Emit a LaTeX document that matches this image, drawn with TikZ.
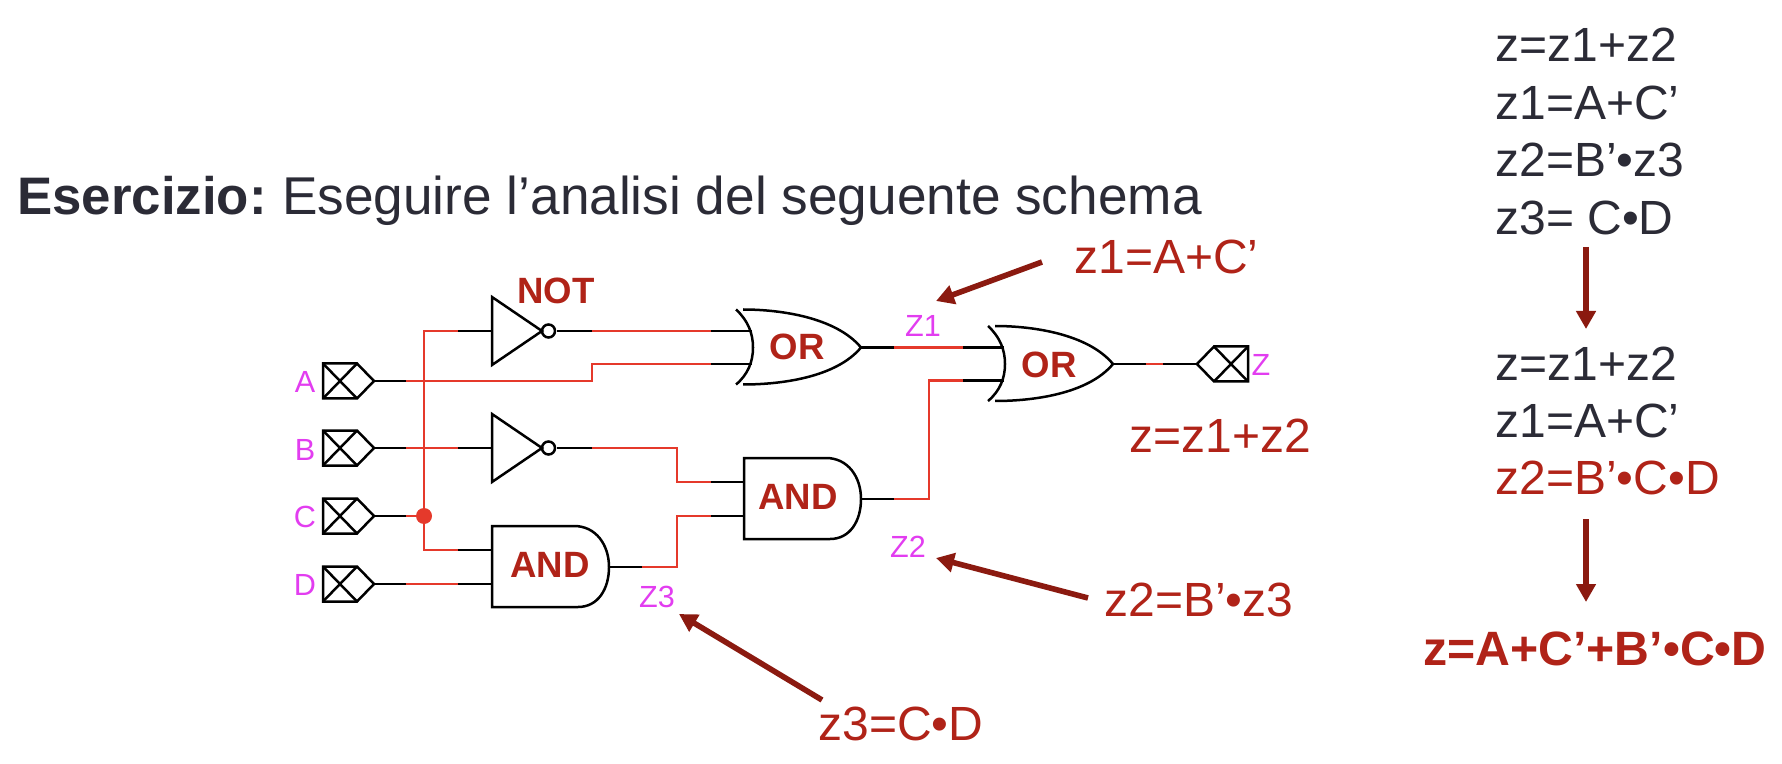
\documentclass[tikz,border=0pt]{standalone}
\usepackage{fontspec}
\setmainfont{Liberation Sans}
\usetikzlibrary{arrows.meta,positioning}

\definecolor{inkdark}{HTML}{2B2B36}
\definecolor{redtext}{HTML}{B02318}
\definecolor{redwire}{HTML}{E5392B}
\definecolor{redarrow}{HTML}{8B1A10}
\definecolor{sigpink}{HTML}{E23DF0}

\tikzset{
    gateline/.style={draw=black,line width=1.25pt},
    inport/.pic={
        \draw[gateline] (34,-17.5) -- (0,-17.5) -- (0,17.5) -- (34,17.5) -- (51,0) -- cycle;
        \draw[gateline] (0,-17.5) -- (34,17.5) (0,17.5) -- (34,-17.5);
        \coordinate (-out) at (51,0);
    },
    notgate/.pic={
        \draw[gateline] (0,-34) -- (50,0) -- (0,34) -- cycle;
        \draw[gateline] (56.5,0) circle (6.5);
        \coordinate (-in) at (0,0);
        \coordinate (-out) at (65,0);
    },
    andgate/.pic={
        \draw[gateline] (0,-41) -- (82,-41) .. controls (104,-41) and (117,-22) .. (117,0)
            .. controls (117,22) and (106,40) .. (86,40) -- (0,40) -- cycle;
        \coordinate (-in1) at (0,-17);
        \coordinate (-in2) at (0,17);
        \coordinate (-out) at (117,0);
    },
    orgate/.pic={
        \draw[gateline] (0,-38) .. controls (12,-27) and (17,-14) .. (17,0)
            .. controls (17,14) and (12,27) .. (0,37);
        \draw[gateline] (7,-38) .. controls (45,-38) and (100,-30) .. (125,0)
            .. controls (100,30) and (45,37) .. (7,37);
        \coordinate (-in1) at (16,-16.5);
        \coordinate (-in2) at (16,16.5);
        \coordinate (-out) at (125,0);
    }
}

\begin{document}
\begin{tikzpicture}[x=0.5pt,y=-0.5pt,>={Triangle[width=9.5pt,length=9pt]},
    stub/.style={draw=black,line width=1.25pt},
    redw/.style={draw=redwire,line width=1.3pt},
    junction/.style={circle,fill=redwire,inner sep=0pt,minimum size=8pt},
    sig/.style={text=sigpink,inner sep=0pt,font=\fontsize{15.3}{18}\selectfont},
    gatename/.style={text=redtext,inner sep=0pt,font=\fontsize{18.3}{22}\selectfont\bfseries},
    eq/.style={text=inkdark,inner sep=0pt,anchor=base west,font=\fontsize{24}{28}\selectfont},
    redeq/.style={eq,text=redtext},
    callout/.style={->,draw=redarrow,line width=2.8pt}]

    \useasboundingbox (0,0) rectangle (1782,764);

    \node[eq,font=\fontsize{26.6}{31}\selectfont] (title) at (17,215) {{\fontsize{26.4}{31}\selectfont\bfseries Esercizio:}\hspace{-2.2pt} Eseguire l’analisi del seguente schema};

    \pic (pA) at (323,381) {inport};
    \pic (pB) at (323,448) {inport};
    \pic (pC) at (323,516) {inport};
    \pic (pD) at (323,584) {inport};
    \pic[xscale=-1] (pZ) at (1248,364) {inport};

    \pic (not1) at (492,331) {notgate};
    \pic (not2) at (492,448) {notgate};
    \pic (and1) at (492,567) {andgate};
    \pic (and2) at (744,499) {andgate};
    \pic (or1) at (736,347.5) {orgate};
    \pic (or2) at (988,364) {orgate};

    \node[sig] (lA) at (305,382) {A};
    \node[sig] (lB) at (305,450) {B};
    \node[sig] (lC) at (305,517) {C};
    \node[sig] (lD) at (305,585) {D};
    \node[sig] (lZ) at (1261,365) {Z};
    \node[sig] (lz1) at (923,326) {Z1};
    \node[sig] (lz2) at (908,547) {Z2};
    \node[sig] (lz3) at (657,597) {Z3};

    \node[gatename] (nNot) at (556,291) {NOT};
    \node[gatename] (nOr1) at (797,347) {OR};
    \node[gatename] (nOr2) at (1049,365) {OR};
    \node[gatename] (nAnd1) at (550,565) {AND};
    \node[gatename] (nAnd2) at (798,497) {AND};

    \node[junction] (jC) at (424,516) {};

    \draw[stub] (pA-out) -- ++(32,0) coordinate (ra);
    \draw[stub] (pB-out) -- ++(32,0) coordinate (rb);
    \draw[stub] (pC-out) -- ++(32,0) coordinate (rc);
    \draw[stub] (pD-out) -- ++(32,0) coordinate (rd);
    \draw[stub] (not1-in) -- ++(-34,0) coordinate (rn1);
    \draw[stub] (not2-in) -- ++(-34,0) coordinate (rn2);
    \draw[stub] (not1-out) -- ++(35,0) coordinate (rn3);
    \draw[stub] (not2-out) -- ++(35,0) coordinate (rn4);
    \draw[stub] (and1-in1) -- ++(-34,0) coordinate (ra1);
    \draw[stub] (and1-in2) -- ++(-34,0) coordinate (ra2);
    \draw[stub] (and1-out) -- ++(33,0) coordinate (ra3);
    \draw[stub] (and2-in1) -- ++(-33,0) coordinate (ra4);
    \draw[stub] (and2-in2) -- ++(-33,0) coordinate (ra5);
    \draw[stub] (and2-out) -- ++(33,0) coordinate (ra6);
    \draw[stub] (or1-in1) -- ++(-41,0) coordinate (ro1);
    \draw[stub] (or1-in2) -- ++(-41,0) coordinate (ro2);
    \draw[stub] (or1-out) -- ++(33,0) coordinate (ro3);
    \draw[stub] (or2-in1) -- ++(-41,0) coordinate (ro4);
    \draw[stub] (or2-in2) -- ++(-41,0) coordinate (ro5);
    \draw[stub] (or2-out) -- ++(33,0) coordinate (ro6);
    \draw[stub] (pZ-out) -- ++(-34,0) coordinate (rz);

    \draw[redw] (ra) -| (592,364) -- (ro2);
    \draw[redw] (rb) -- (rn2);
    \draw[redw] (rc) -- (jC.center);
    \draw[redw] (jC.center) |- (rn1);
    \draw[redw] (jC.center) |- (ra1);
    \draw[redw] (rd) -- (ra2);
    \draw[redw] (rn3) -- (ro1);
    \draw[redw] (rn4) -| (677,482) -- (ra4);
    \draw[redw] (ra3) -| (677,516) -- (ra5);
    \draw[redw] (ra6) -| (929,380.5) -- (ro5);
    \draw[redw] (ro3) -- (ro4);
    \draw[redw] (ro6) -- (rz);

    \node[redeq] (zeq1) at (1074,274) {z1=A+C’};
    \node[redeq] (zeq) at (1129,452) {z=z1+z2};
    \node[redeq] (zeq2) at (1104,616) {z2=B’•z3};
    \node[redeq] (zeq3) at (818,740) {z3=C•D};

    \coordinate (t1) at (1042,262);
    \coordinate (t2) at (1088,598);
    \coordinate (t3) at (822,700);
    \coordinate (h1) at (936,301);
    \coordinate (h2) at (936,558);
    \coordinate (h3) at (679,614);
    \draw[callout] (t1) -- (h1);
    \draw[callout] (t2) -- (h2);
    \draw[callout] (t3) -- (h3);

    \node[eq] (eqa) at (1495,62) {z=z1+z2};
    \node[eq] (eqb) [below=28.7pt of eqa.base west,anchor=base west] {z1=A+C’};
    \node[eq] (eqc) [below=28.7pt of eqb.base west,anchor=base west] {z2=B’•z3};
    \node[eq] (eqd) [below=28.7pt of eqc.base west,anchor=base west] {z3= C•D};

    \node[eq] (eqe) at (1495,380) {z=z1+z2};
    \node[eq] (eqf) [below=28.7pt of eqe.base west,anchor=base west] {z1=A+C’};
    \node[redeq] (eqg) [below=28.7pt of eqf.base west,anchor=base west] {z2=B’•C•D};

    \node[redeq,font=\fontsize{24.1}{29}\selectfont\bfseries] (eqh) at (1423,665) {z=A+C’+B’•C•D};

    \coordinate (s1) at (1586,247);
    \coordinate (e1) at (1586,329);
    \coordinate (s2) at (1586,519);
    \coordinate (e2) at (1586,602);
    \draw[callout] (s1) -- (e1);
    \draw[callout] (s2) -- (e2);

\end{tikzpicture}
\end{document}
